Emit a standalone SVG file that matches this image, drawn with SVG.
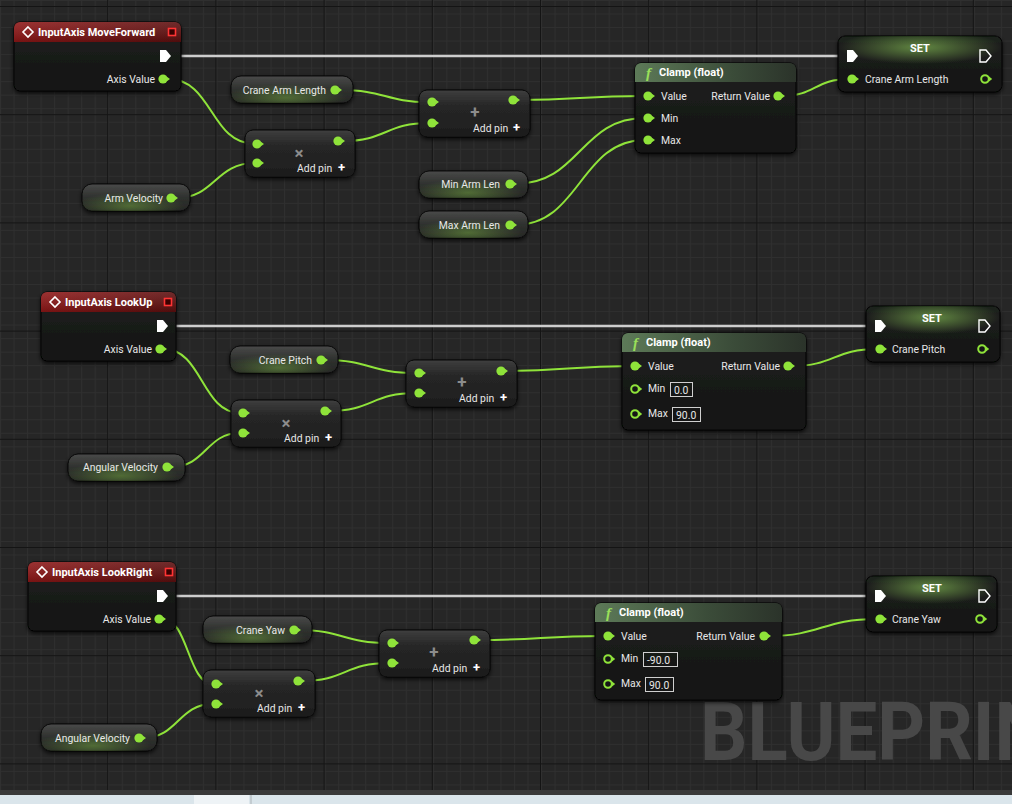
<svg xmlns="http://www.w3.org/2000/svg" width="1012" height="804" viewBox="0 0 1012 804">
<defs>
<pattern id="minor" x="0" y="0" width="13.525" height="13.525" patternUnits="userSpaceOnUse">
<rect width="13.525" height="13.525" fill="#262626"/>
<path d="M0,0.5 H13.525 M0.5,0 V13.525" stroke="#2f2f2f" stroke-width="1"/>
</pattern>
<pattern id="major" x="-1" y="6" width="108.2" height="108.2" patternUnits="userSpaceOnUse">
<path d="M0,0.5 H108.2 M0.5,0 V108.2" stroke="#141414" stroke-width="1"/>
</pattern>
<linearGradient id="body" x1="0" y1="0" x2="0" y2="1">
<stop offset="0" stop-color="#1f211f"/>
<stop offset="1" stop-color="#131413"/>
</linearGradient>
<linearGradient id="red" x1="0" y1="0" x2="1" y2="0">
<stop offset="0" stop-color="#8e1616"/>
<stop offset="1" stop-color="#5c0e0e"/>
</linearGradient>
<linearGradient id="redv" x1="0" y1="0" x2="0" y2="1">
<stop offset="0" stop-color="#ffffff" stop-opacity="0.12"/>
<stop offset="1" stop-color="#000000" stop-opacity="0.15"/>
</linearGradient>
<linearGradient id="fhead" x1="0" y1="0" x2="1" y2="0">
<stop offset="0" stop-color="#5d7a58"/>
<stop offset="0.6" stop-color="#3b4c39"/>
<stop offset="1" stop-color="#2b332a"/>
</linearGradient>
<linearGradient id="comp" x1="0" y1="0" x2="0" y2="1">
<stop offset="0" stop-color="#3e3e3e"/>
<stop offset="0.35" stop-color="#262626"/>
<stop offset="1" stop-color="#1d1d1d"/>
</linearGradient>
<linearGradient id="pill" x1="0" y1="0" x2="0" y2="1">
<stop offset="0" stop-color="#4a4a4a"/>
<stop offset="0.5" stop-color="#2f312e"/>
<stop offset="1" stop-color="#262725"/>
</linearGradient>
<radialGradient id="pillglow" cx="0.45" cy="0.8" r="0.5">
<stop offset="0" stop-color="#6fa040" stop-opacity="0.55"/>
<stop offset="1" stop-color="#6fa040" stop-opacity="0"/>
</radialGradient>
<radialGradient id="setglow" cx="0.5" cy="0.2" r="0.5" gradientTransform="translate(0.5,0.2) scale(1,0.6) translate(-0.5,-0.2)">
<stop offset="0" stop-color="#8fcf5a" stop-opacity="0.6"/>
<stop offset="1" stop-color="#8fcf5a" stop-opacity="0"/>
</radialGradient>
<filter id="sh" x="-10%" y="-20%" width="120%" height="150%">
<feDropShadow dx="0" dy="2" stdDeviation="2" flood-color="#000" flood-opacity="0.75"/>
</filter>
<g id="pf"><circle r="4.6" fill="#8fe33a"/><path d="M3.5,-2.6 L7,0 L3.5,2.6 Z" fill="#8fe33a"/></g>
<g id="ph"><circle r="3.8" fill="none" stroke="#8fe33a" stroke-width="2"/><path d="M4,-2.4 L7.2,0 L4,2.4 Z" fill="#8fe33a"/></g>
<path id="ef" d="M-5,-6 H1 L6,0 L1,6 H-5 Z" fill="#ffffff"/>
<path id="eh" d="M-5,-6 H1 L6,0 L1,6 H-5 Z" fill="none" stroke="#ffffff" stroke-width="1.4"/>
<path id="dia" d="M0,-5 L5,0 L0,5 L-5,0 Z" fill="none" stroke="#ffffff" stroke-width="1.6"/>
</defs>
<style>
.t{font-family:Roboto,"Liberation Sans",sans-serif;font-size:10.4px;fill:#e8e8e8}
.b{font-family:Roboto,"Liberation Sans",sans-serif;font-size:11px;font-weight:bold;fill:#ffffff}
.e{text-anchor:end}
.m{text-anchor:middle}
.sym{font-family:Roboto,"Liberation Sans",sans-serif;font-size:17px;font-weight:bold;fill:#8c8c8c;text-anchor:middle}
.plus{font-family:Roboto,"Liberation Sans",sans-serif;font-size:13px;font-weight:bold;fill:#ffffff}
.fn{font-family:"Liberation Serif",serif;font-style:italic;font-size:15px;font-weight:bold;fill:#9ae05a}
.node{fill:url(#body);stroke:#050505;stroke-width:1;filter:url(#sh)}
.cmp{fill:url(#comp);stroke:#0a0a0a;stroke-width:1;filter:url(#sh)}
.get{fill:url(#pill);stroke:#0a0a0a;stroke-width:1;filter:url(#sh)}
.box{fill:none;stroke:#cfcfcf;stroke-width:1}
.w{fill:none;stroke:#8fe33a;stroke-width:2}
.x{fill:none;stroke:#cdcdcd;stroke-width:2.5}
.wm{font-family:Roboto,"Liberation Sans",sans-serif;font-size:82px;font-weight:bold;fill:#484848}
</style>
<rect width="1012" height="804" fill="url(#minor)"/>
<rect width="1012" height="804" fill="url(#major)"/>
<text class="wm" x="700" y="760" textLength="392" lengthAdjust="spacingAndGlyphs">BLUEPRINT</text>
<rect x="0" y="790" width="1012" height="5" fill="#393939"/>
<rect x="0" y="795" width="1012" height="9" fill="#dae5eb"/>
<rect x="194" y="795" width="55" height="9" fill="#eef3f6"/>
<rect x="250" y="795" width="2" height="9" fill="#c3ccd1"/>

<g id="connectors">
<path class="x" d="M172,56 H846"/>
<path class="x" d="M170,326 H874"/>
<path class="x" d="M170,596 H874"/>
<path class="w" d="M168,79 C213,79 210,144 255,144"/>
<path class="w" d="M176,198 C215,198 215,163 255,163"/>
<path class="w" d="M340,90 C385,90 385,102 429,102"/>
<path class="w" d="M343,141 C386,141 386,123 429,123"/>
<path class="w" d="M518,100 C580,100 580,96 645,96"/>
<path class="w" d="M515,184 C580,184 580,118 645,118"/>
<path class="w" d="M515,225 C580,225 580,140 645,140"/>
<path class="w" d="M782,96 C815,96 815,79 849,79"/>
<path class="w" d="M164,349 C202,349 202,413 240,413"/>
<path class="w" d="M171,467 C206,467 206,433 240,433"/>
<path class="w" d="M325,360 C370,360 370,373 416,373"/>
<path class="w" d="M329,411 C372,411 372,393 416,393"/>
<path class="w" d="M505,371 C568,371 568,366 632,366"/>
<path class="w" d="M792,366 C834,366 834,349 877,349"/>
<path class="w" d="M163,619 C188,619 188,684 213,684"/>
<path class="w" d="M143,738 C178,738 178,704 213,704"/>
<path class="w" d="M298,630 C343,630 343,643 389,643"/>
<path class="w" d="M302,681 C345,681 345,663 389,663"/>
<path class="w" d="M478,640 C541,640 541,636 605,636"/>
<path class="w" d="M768,636 C822,636 822,619 877,619"/>
</g>

<!-- Section 1 -->
<g id="ev-moveforward">
<rect class="node" x="14" y="22" width="167" height="69" rx="6"/>
<path d="M14,42 V28 A6,6 0 0 1 20,22 H175 A6,6 0 0 1 181,28 V42 Z" fill="url(#red)"/>
<path d="M14,42 V28 A6,6 0 0 1 20,22 H175 A6,6 0 0 1 181,28 V42 Z" fill="url(#redv)"/>
<use href="#dia" x="28" y="32"/>
<text class="b" x="38" y="36">InputAxis MoveForward</text>
<rect x="168.5" y="28.5" width="7" height="7" fill="#3a0000" stroke="#ff3434" stroke-width="1.6"/>
<use href="#ef" x="165" y="56"/>
<text class="t e" x="155" y="83">Axis Value</text>
<use href="#pf" x="163" y="79"/>
</g>
<g id="get-cranearmlength">
<rect class="get" x="231" y="76" width="122" height="27" rx="10"/>
<rect x="231" y="76" width="122" height="27" rx="10" fill="url(#pillglow)"/>
<text class="t e" x="326" y="94">Crane Arm Length</text>
<use href="#pf" x="335" y="90"/>
</g>
<g id="mul-1">
<rect class="cmp" x="245" y="130" width="110" height="47" rx="8"/>
<use href="#pf" x="257" y="144"/>
<use href="#pf" x="257" y="163"/>
<use href="#pf" x="338" y="141"/>
<text class="sym" x="299" y="159">×</text>
<text class="t" x="297" y="172">Add pin</text>
<text class="plus" x="338" y="172">+</text>
</g>
<g id="get-armvelocity">
<rect class="get" x="82" y="184" width="108" height="27" rx="10"/>
<rect x="82" y="184" width="108" height="27" rx="10" fill="url(#pillglow)"/>
<text class="t e" x="163" y="202">Arm Velocity</text>
<use href="#pf" x="171" y="198"/>
</g>
<g id="add-1">
<rect class="cmp" x="419" y="90" width="111" height="47" rx="8"/>
<use href="#pf" x="432" y="102"/>
<use href="#pf" x="432" y="123"/>
<use href="#pf" x="513" y="100"/>
<text class="sym" x="475" y="118">+</text>
<text class="t" x="473" y="132">Add pin</text>
<text class="plus" x="513" y="132">+</text>
</g>
<g id="clamp-1">
<rect class="node" x="635" y="63" width="161" height="90" rx="6"/>
<path d="M635,82 V69 A6,6 0 0 1 641,63 H790 A6,6 0 0 1 796,69 V82 Z" fill="url(#fhead)"/>
<text class="fn" x="646" y="78">f</text>
<text class="b" x="659" y="76">Clamp (float)</text>
<use href="#pf" x="648" y="96"/>
<text class="t" x="661" y="100">Value</text>
<use href="#pf" x="648" y="118"/>
<text class="t" x="661" y="122">Min</text>
<use href="#pf" x="648" y="140"/>
<text class="t" x="661" y="144">Max</text>
<text class="t e" x="770" y="100">Return Value</text>
<use href="#pf" x="778" y="96"/>
</g>
<g id="get-minarmlen">
<rect class="get" x="419" y="171" width="109" height="27" rx="10"/>
<rect x="419" y="171" width="109" height="27" rx="10" fill="url(#pillglow)"/>
<text class="t e" x="500" y="188">Min Arm Len</text>
<use href="#pf" x="510" y="184"/>
</g>
<g id="get-maxarmlen">
<rect class="get" x="419" y="211" width="109" height="27" rx="10"/>
<rect x="419" y="211" width="109" height="27" rx="10" fill="url(#pillglow)"/>
<text class="t e" x="500" y="229">Max Arm Len</text>
<use href="#pf" x="510" y="225"/>
</g>
<g id="set-1">
<rect class="node" x="838" y="36" width="164" height="56" rx="7"/>
<rect x="838" y="36" width="164" height="56" rx="7" fill="url(#setglow)"/>
<text class="b m" x="920" y="52">SET</text>
<use href="#ef" x="852" y="56"/>
<use href="#eh" x="985" y="56"/>
<use href="#pf" x="852" y="79"/>
<text class="t" x="865" y="83">Crane Arm Length</text>
<use href="#ph" x="985" y="79"/>
</g>

<!-- Section 2 -->
<g id="ev-lookup">
<rect class="node" x="41" y="292" width="135" height="69" rx="6"/>
<path d="M41,312 V298 A6,6 0 0 1 47,292 H170 A6,6 0 0 1 176,298 V312 Z" fill="url(#red)"/>
<path d="M41,312 V298 A6,6 0 0 1 47,292 H170 A6,6 0 0 1 176,298 V312 Z" fill="url(#redv)"/>
<use href="#dia" x="55" y="302"/>
<text class="b" x="65" y="306">InputAxis LookUp</text>
<rect x="164.5" y="298.5" width="7" height="7" fill="#3a0000" stroke="#ff3434" stroke-width="1.6"/>
<use href="#ef" x="162" y="326"/>
<text class="t e" x="152" y="353">Axis Value</text>
<use href="#pf" x="160" y="349"/>
</g>
<g id="get-cranepitch">
<rect class="get" x="230" y="346" width="108" height="27" rx="10"/>
<rect x="230" y="346" width="108" height="27" rx="10" fill="url(#pillglow)"/>
<text class="t e" x="312" y="364">Crane Pitch</text>
<use href="#pf" x="321" y="360"/>
</g>
<g id="mul-2">
<rect class="cmp" x="231" y="400" width="110" height="47" rx="8"/>
<use href="#pf" x="243" y="413"/>
<use href="#pf" x="243" y="433"/>
<use href="#pf" x="325" y="411"/>
<text class="sym" x="286" y="429">×</text>
<text class="t" x="284" y="442">Add pin</text>
<text class="plus" x="325" y="442">+</text>
</g>
<g id="get-angvel-2">
<rect class="get" x="68" y="454" width="117" height="27" rx="10"/>
<rect x="68" y="454" width="117" height="27" rx="10" fill="url(#pillglow)"/>
<text class="t e" x="158" y="471">Angular Velocity</text>
<use href="#pf" x="167" y="467"/>
</g>
<g id="add-2">
<rect class="cmp" x="406" y="360" width="111" height="47" rx="8"/>
<use href="#pf" x="419" y="373"/>
<use href="#pf" x="419" y="393"/>
<use href="#pf" x="501" y="371"/>
<text class="sym" x="462" y="388">+</text>
<text class="t" x="459" y="402">Add pin</text>
<text class="plus" x="500" y="402">+</text>
</g>
<g id="clamp-2">
<rect class="node" x="622" y="333" width="184" height="97" rx="6"/>
<path d="M622,352 V339 A6,6 0 0 1 628,333 H800 A6,6 0 0 1 806,339 V352 Z" fill="url(#fhead)"/>
<text class="fn" x="633" y="348">f</text>
<text class="b" x="646" y="346">Clamp (float)</text>
<use href="#pf" x="635" y="366"/>
<text class="t" x="648" y="370">Value</text>
<use href="#ph" x="635" y="389"/>
<text class="t" x="648" y="392">Min</text>
<rect class="box" x="670.5" y="382.5" width="22" height="14"/>
<text class="t" x="674" y="394">0.0</text>
<use href="#ph" x="635" y="414"/>
<text class="t" x="648" y="417">Max</text>
<rect class="box" x="672.5" y="407.5" width="28" height="14"/>
<text class="t" x="676" y="419">90.0</text>
<text class="t e" x="780" y="370">Return Value</text>
<use href="#pf" x="788" y="366"/>
</g>
<g id="set-2">
<rect class="node" x="866" y="306" width="134" height="56" rx="7"/>
<rect x="866" y="306" width="134" height="56" rx="7" fill="url(#setglow)"/>
<text class="b m" x="932" y="322">SET</text>
<use href="#ef" x="880" y="326"/>
<use href="#eh" x="984" y="326"/>
<use href="#pf" x="880" y="349"/>
<text class="t" x="892" y="353">Crane Pitch</text>
<use href="#ph" x="982" y="349"/>
</g>

<!-- Section 3 -->
<g id="ev-lookright">
<rect class="node" x="28" y="562" width="148" height="69" rx="6"/>
<path d="M28,582 V568 A6,6 0 0 1 34,562 H170 A6,6 0 0 1 176,568 V582 Z" fill="url(#red)"/>
<path d="M28,582 V568 A6,6 0 0 1 34,562 H170 A6,6 0 0 1 176,568 V582 Z" fill="url(#redv)"/>
<use href="#dia" x="42" y="572"/>
<text class="b" x="52" y="576">InputAxis LookRight</text>
<rect x="165.5" y="568.5" width="7" height="7" fill="#3a0000" stroke="#ff3434" stroke-width="1.6"/>
<use href="#ef" x="162" y="596"/>
<text class="t e" x="151" y="623">Axis Value</text>
<use href="#pf" x="159" y="619"/>
</g>
<g id="get-craneyaw">
<rect class="get" x="203" y="616" width="109" height="27" rx="10"/>
<rect x="203" y="616" width="109" height="27" rx="10" fill="url(#pillglow)"/>
<text class="t e" x="285" y="634">Crane Yaw</text>
<use href="#pf" x="294" y="630"/>
</g>
<g id="mul-3">
<rect class="cmp" x="203" y="670" width="112" height="47" rx="8"/>
<use href="#pf" x="216" y="684"/>
<use href="#pf" x="216" y="704"/>
<use href="#pf" x="298" y="681"/>
<text class="sym" x="259" y="699">×</text>
<text class="t" x="257" y="712">Add pin</text>
<text class="plus" x="298" y="712">+</text>
</g>
<g id="get-angvel-3">
<rect class="get" x="41" y="724" width="116" height="27" rx="10"/>
<rect x="41" y="724" width="116" height="27" rx="10" fill="url(#pillglow)"/>
<text class="t e" x="130" y="742">Angular Velocity</text>
<use href="#pf" x="139" y="738"/>
</g>
<g id="add-3">
<rect class="cmp" x="379" y="630" width="111" height="47" rx="8"/>
<use href="#pf" x="392" y="643"/>
<use href="#pf" x="392" y="663"/>
<use href="#pf" x="474" y="640"/>
<text class="sym" x="434" y="658">+</text>
<text class="t" x="432" y="672">Add pin</text>
<text class="plus" x="473" y="672">+</text>
</g>
<g id="clamp-3">
<rect class="node" x="595" y="603" width="187" height="97" rx="6"/>
<path d="M595,622 V609 A6,6 0 0 1 601,603 H776 A6,6 0 0 1 782,609 V622 Z" fill="url(#fhead)"/>
<text class="fn" x="606" y="618">f</text>
<text class="b" x="619" y="616">Clamp (float)</text>
<use href="#pf" x="608" y="636"/>
<text class="t" x="621" y="640">Value</text>
<use href="#ph" x="608" y="659"/>
<text class="t" x="621" y="662">Min</text>
<rect class="box" x="643.5" y="652.5" width="34" height="14"/>
<text class="t" x="647" y="664">-90.0</text>
<use href="#ph" x="608" y="684"/>
<text class="t" x="621" y="687">Max</text>
<rect class="box" x="645.5" y="677.5" width="28" height="14"/>
<text class="t" x="649" y="689">90.0</text>
<text class="t e" x="755" y="640">Return Value</text>
<use href="#pf" x="764" y="636"/>
</g>
<g id="set-3">
<rect class="node" x="866" y="576" width="131" height="56" rx="7"/>
<rect x="866" y="576" width="131" height="56" rx="7" fill="url(#setglow)"/>
<text class="b m" x="932" y="592">SET</text>
<use href="#ef" x="880" y="596"/>
<use href="#eh" x="984" y="596"/>
<use href="#pf" x="880" y="619"/>
<text class="t" x="892" y="623">Crane Yaw</text>
<use href="#ph" x="980" y="619"/>
</g>
</svg>
